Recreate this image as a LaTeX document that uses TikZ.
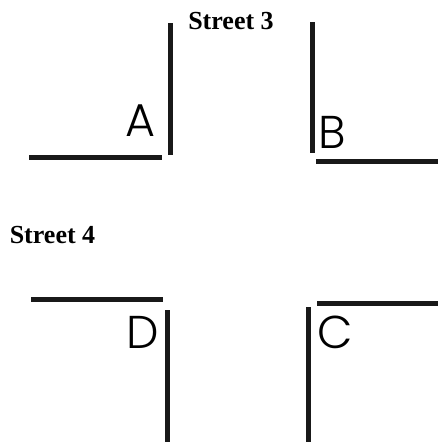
\documentclass[tikz,border=0pt]{standalone}
\usepackage{fontspec}
\setmainfont{Liberation Serif}
\newfontfamily\gothic{Poppins}[UprightFont=* Light]
\usepackage{tikz}
\usetikzlibrary{positioning}

\tikzset{
    curb/.style={line width=5pt,draw=black!90},
    streetname/.style={font=\fontsize{26}{30}\selectfont\bfseries,anchor=base,inner sep=0pt},
    cornerlabel/.style={font=\gothic\fontsize{46}{50}\selectfont,anchor=base,inner sep=0pt}
}

\begin{document}
\begin{tikzpicture}[x=1pt,y=-1pt]
    \useasboundingbox (0,0) rectangle (438,442);

    % Corner A
    \draw[curb] (170,23) -- (170,155);
    \draw[curb] (29,157) -- (162,157);
    \node[cornerlabel] (A) at (140,136) {A};

    % Corner B
    \draw[curb] (312,22) -- (312,153);
    \draw[curb] (316,161) -- (438,161);
    \node[cornerlabel] (B) at (332,148) {B};

    % Corner D
    \draw[curb] (31,299) -- (163,299);
    \draw[curb] (167,310) -- (167,442);
    \node[cornerlabel] (D) at (143,348) {D};

    % Corner C
    \draw[curb] (317,303) -- (438,303);
    \draw[curb] (308,307) -- (308,442);
    \node[cornerlabel] (C) at (335.5,348) {C};

    % Street names
    \node[streetname] (street3) at (231,29) {Street 3};
    \node[streetname] (street4) at (52.5,243) {Street 4};
\end{tikzpicture}
\end{document}
